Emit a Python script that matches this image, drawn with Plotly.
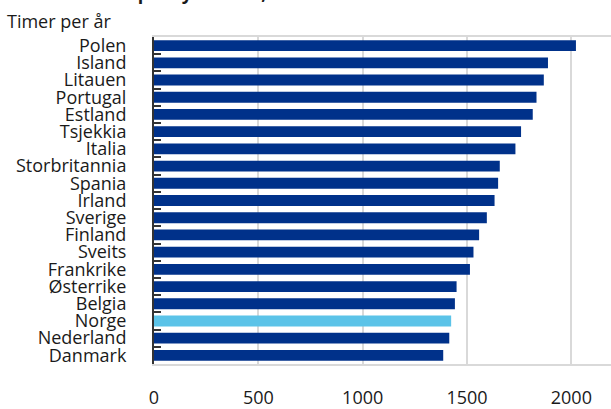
import plotly.graph_objects as go

countries = ["Polen", "Island", "Litauen", "Portugal", "Estland", "Tsjekkia", "Italia",
             "Storbritannia", "Spania", "Irland", "Sverige", "Finland", "Sveits",
             "Frankrike", "Østerrike", "Belgia", "Norge", "Nederland", "Danmark"]
hours = [2022, 1888, 1868, 1833, 1815, 1759, 1732, 1657, 1649, 1632, 1595, 1558,
         1531, 1514, 1450, 1442, 1424, 1415, 1386]
x_ticks = [0, 500, 1000, 1500, 2000]
title_text = "Arbeidstid per sysselsatt, 2016"
unit_text = "Timer per år"

dark = "#00318a"
light = "#5bc3e8"
colors = [light if c == "Norge" else dark for c in countries]

FONT = "Open Sans"

fig = go.Figure(go.Bar(
    x=hours, y=countries, orientation="h",
    marker=dict(color=colors, line=dict(width=0)),
))

fig.update_layout(
    width=611, height=409,
    margin=dict(l=154, r=0, t=37, b=40),
    paper_bgcolor="white", plot_bgcolor="white",
    bargap=0.37,
    showlegend=False,
    font=dict(family=FONT, size=18, color="#1a1a1a"),
    xaxis=dict(
        range=[0, 2190], tickvals=x_ticks, ticktext=[str(v) for v in x_ticks],
        showgrid=True, gridcolor="#d9d9d9", gridwidth=1.5,
        showline=True, linecolor="#d9d9d9", linewidth=1.5, mirror=True,
        zeroline=False, ticks="", ticklabelstandoff=17,
        tickfont=dict(family=FONT, size=18, color="#1a1a1a"),
        fixedrange=True,
    ),
    yaxis=dict(
        categoryorder="array", categoryarray=countries[::-1],
        tickmode="linear", dtick=1,
        showgrid=False, showline=True, linecolor="#333333", linewidth=2,
        ticks="inside", tickson="boundaries", ticklen=7, tickwidth=2, tickcolor="#333333",
        ticklabelstandoff=22, layer="above traces",
        tickfont=dict(family=FONT, size=18, color="#1a1a1a"),
        fixedrange=True,
    ),
    annotations=[
        dict(text=unit_text, xref="paper", yref="paper", x=-154/457 + 5/457, y=1 + (37 - 35) / 332,
             xanchor="left", yanchor="bottom", showarrow=False,
             font=dict(family=FONT, size=18, color="#1a1a1a")),
        dict(text="<b>" + title_text + "</b>", xref="paper", yref="paper",
             x=-154/457 + 38/457, y=1 + (37 - 7) / 332,
             xanchor="left", yanchor="bottom", showarrow=False,
             font=dict(family=FONT, size=18, color="#1a1a1a")),
    ],
)

fig.write_html("out.html")
